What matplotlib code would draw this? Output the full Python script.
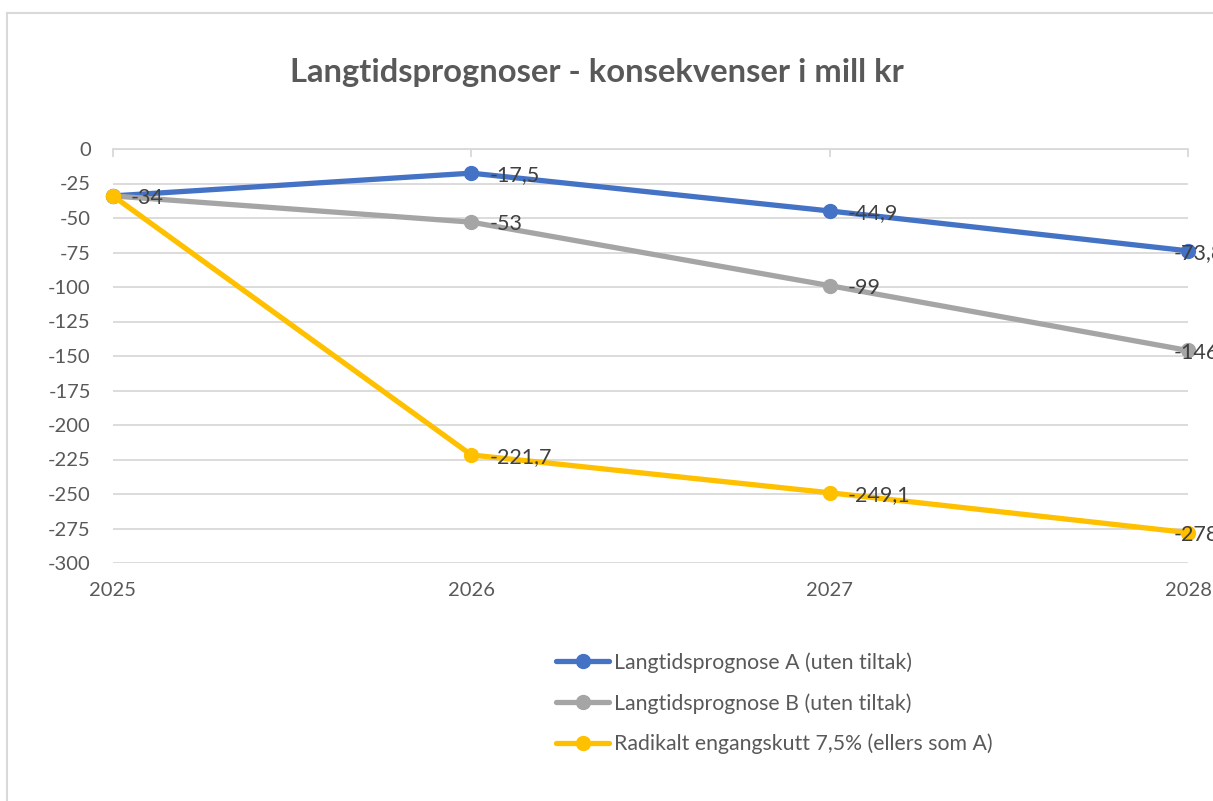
import matplotlib
matplotlib.use("Agg")
import matplotlib.pyplot as plt
from matplotlib.lines import Line2D

# Data
years = ["2025", "2026", "2027", "2028"]
prognose_a = [-34, -17.5, -44.9, -73.8]
prognose_b = [-34, -53, -99, -146]
radikalt = [-34, -221.7, -249.1, -278]

series_names = [
    "Langtidsprognose A (uten tiltak)",
    "Langtidsprognose B (uten tiltak)",
    "Radikalt engangskutt 7,5% (ellers som A)",
]
colors = ["#4472C4", "#A5A5A5", "#FFC000"]
yticks = list(range(0, -301, -25))

plt.rcParams['font.family'] = ['Lato', 'DejaVu Sans']
plt.rcParams['axes.unicode_minus'] = False
text_col = "#595959"
grid_col = "#D9D9D9"

fig = plt.figure(figsize=(12.13, 8.01), dpi=100)
ax = fig.add_axes([113 / 1213, 1 - 563 / 801, (1188 - 113) / 1213, (563 - 149) / 801])

x = range(len(years))
for vals, name, col in zip([prognose_a, prognose_b, radikalt], series_names, colors):
    ax.plot(x, vals, color=col, lw=3.8, marker='o', markersize=10,
            label=name, clip_on=False, zorder=3, solid_capstyle='round')

# data labels (comma decimal), first point only labelled once
# Excel pushes the last labels back left at the plot edge
for vals in [prognose_a, prognose_b, radikalt]:
    for i, v in enumerate(vals):
        if i == 0 and vals is not radikalt:
            continue
        s = f"{v:g}".replace(".", ",")
        dx = -10 if i == len(vals) - 1 else 13
        ax.annotate(s, (i, v), xytext=(dx, -1.5), textcoords="offset points",
                    ha='left', va='center', fontsize=15.5, color="#404040",
                    annotation_clip=False, zorder=4)

ax.set_xlim(0, 3)
ax.set_ylim(-300, 0)
ax.set_yticks(yticks)
ax.set_xticks(list(x))
ax.set_xticklabels(years)
ax.grid(axis='y', color=grid_col, lw=1.3)
ax.set_axisbelow(True)
for side in ['left', 'right', 'bottom']:
    ax.spines[side].set_visible(False)
ax.spines['top'].set_color(grid_col)
ax.spines['top'].set_linewidth(1.3)
ax.tick_params(axis='y', length=0, labelsize=14.5, labelcolor=text_col, pad=16)
ax.tick_params(axis='x', bottom=False, top=True, labelbottom=True, labeltop=False,
               direction='in', length=6, width=1.3, color=grid_col,
               labelsize=14.5, labelcolor=text_col, pad=14)

fig.text(0.492, 0.910, "Langtidsprognoser - konsekvenser i mill kr",
         ha='center', va='center', fontsize=23.6, fontweight='bold', color=text_col)

leg = fig.legend(loc='upper left', bbox_to_anchor=(537 / 1213, 1 - 633 / 801),
                 frameon=False, fontsize=15.3, labelcolor=text_col, handlelength=2.5,
                 handletextpad=0.2, labelspacing=0.95)

# chart area border (left and top edges visible)
fig.add_artist(Line2D([7 / 1213, 7 / 1213], [0, 1 - 13 / 801], color=grid_col, lw=1.5))
fig.add_artist(Line2D([7 / 1213, 1], [1 - 13 / 801, 1 - 13 / 801], color=grid_col, lw=1.5))

fig.savefig("out.png", dpi=100)
